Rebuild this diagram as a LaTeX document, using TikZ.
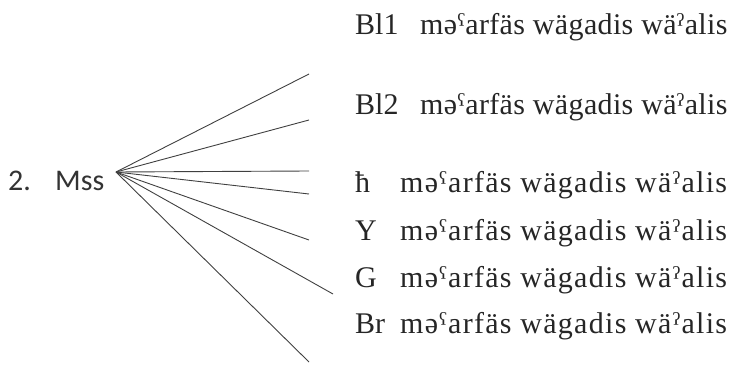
\documentclass[tikz,border=0pt]{standalone}
\usepackage{fontspec}
\setmainfont{Liberation Serif}
\newfontfamily\serifa[LetterSpace=1.2]{Liberation Serif}
\newfontfamily\serifb[LetterSpace=4.3]{Liberation Serif}
\newfontfamily\sansf{Carlito}
\begin{document}
\begin{tikzpicture}[x=1pt,y=-1pt,
  lbl/.style={anchor=base west,inner sep=0pt,font=\fontsize{30}{32}\selectfont,text=black!85},
  pha/.style={lbl,font=\serifa\fontsize{30}{32}\selectfont},
  phb/.style={lbl,font=\serifb\fontsize{30}{32}\selectfont},
  lft/.style={anchor=base west,inner sep=0pt,font=\sansf\fontsize{30}{32}\selectfont,text=black!80},
  ray/.style={line width=0.9pt,draw=black!75}]
\useasboundingbox (0,0) rectangle (740,369);
\node[lft] (num) at (8,190) {2.};
\node[lft] (mss) at (55,190) {Mss};
\coordinate (hub) at (116,172);
\coordinate (e1) at (309,74);
\coordinate (e2) at (309,120);
\coordinate (e3) at (309,171);
\coordinate (e4) at (309,194);
\coordinate (e5) at (309,240);
\coordinate (e6) at (333,294);
\coordinate (e7) at (309,362);
\foreach \i in {1,...,7} \draw[ray] (hub) -- (e\i);
\node[lbl] (k1) at (355,35) {Bl1};
\node[pha] (t1) at (420,35) {məˤarfäs wägadis wäˀalis};
\node[lbl] (k2) at (355,115) {Bl2};
\node[pha] (t2) at (420,115) {məˤarfäs wägadis wäˀalis};
\node[lbl] (k3) at (355,193) {ħ};
\node[phb] (t3) at (400,193) {məˤarfäs wägadis wäˀalis};
\node[lbl] (k4) at (355,240) {Y};
\node[phb] (t4) at (400,240) {məˤarfäs wägadis wäˀalis};
\node[lbl] (k5) at (355,287) {G};
\node[phb] (t5) at (400,287) {məˤarfäs wägadis wäˀalis};
\node[lbl] (k6) at (355,333) {Br};
\node[phb] (t6) at (400,333) {məˤarfäs wägadis wäˀalis};
\end{tikzpicture}
\end{document}
